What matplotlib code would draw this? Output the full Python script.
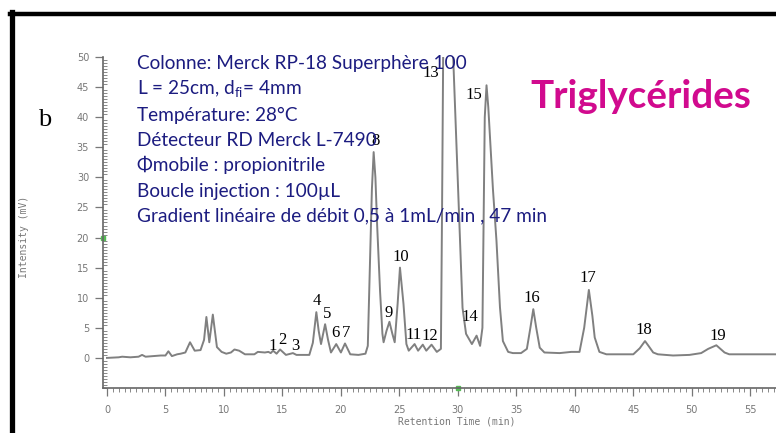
import matplotlib
matplotlib.use("Agg")
import matplotlib.pyplot as plt
from matplotlib.lines import Line2D
from matplotlib.ticker import MultipleLocator

# chromatogram trace: retention time (min) / intensity (mV)
time_min = [0.0, 1.0, 1.3, 2.0, 2.7, 3.0, 3.3, 4.0, 4.6, 5.0, 5.25, 5.55, 6.0, 6.3,
            6.7, 7.1, 7.5, 8.0, 8.3, 8.5, 8.75, 9.05, 9.4, 9.8, 10.2, 10.6, 10.9,
            11.3, 11.8, 12.6, 12.9, 13.5, 13.8, 14.0, 14.2, 14.5, 14.8, 15.3, 15.9,
            16.2, 17.3, 17.6, 17.9, 18.1, 18.3, 18.65, 18.9, 19.15, 19.6, 20.0,
            20.35, 20.8, 21.5, 22.1, 22.3, 22.5, 22.65, 22.8, 22.95, 23.1, 23.35,
            23.55, 23.65, 23.9, 24.15, 24.4, 24.6, 24.85, 25.05, 25.35, 25.6, 25.8,
            26.3, 26.6, 27.0, 27.3, 27.75, 28.2, 28.55, 28.65, 28.75, 29.0, 29.3,
            29.6, 30.0, 30.4, 30.7, 31.2, 31.6, 31.9, 32.1, 32.3, 32.45, 32.6,
            33.0, 33.3, 33.6, 33.85, 34.3, 34.7, 35.4, 35.9, 36.2, 36.45, 36.7,
            37.0, 37.4, 38.7, 39.7, 40.4, 40.8, 41.2, 41.5, 41.7, 42.1, 42.7,
            45.0, 45.55, 46.0, 46.3, 46.7, 47.1, 48.4, 49.8, 50.8, 51.4, 52.1,
            52.8, 53.2, 57.2]
intensity_mv = [0.0, 0.1, 0.2, 0.1, 0.2, 0.5, 0.2, 0.3, 0.4, 0.4, 1.1, 0.3, 0.6, 0.7,
                0.9, 2.6, 1.2, 1.3, 3.0, 6.8, 2.6, 7.2, 1.8, 1.0, 0.7, 0.9, 1.4,
                1.2, 0.6, 0.6, 1.0, 0.9, 1.0, 0.8, 1.2, 0.7, 1.4, 0.5, 0.8,
                0.5, 0.5, 2.5, 7.6, 4.5, 2.3, 5.6, 3.0, 0.9, 2.3, 0.9,
                2.4, 0.6, 0.5, 0.7, 2.0, 17.0, 28.0, 34.2, 30.0, 22.0, 11.0,
                4.0, 2.6, 4.5, 6.0, 4.0, 2.6, 9.0, 15.0, 9.0, 2.3, 1.2,
                2.3, 1.2, 2.2, 1.2, 2.2, 1.0, 1.5, 25.0, 52.0, 62.0, 60.0,
                50.0, 29.0, 8.3, 4.0, 2.3, 3.7, 2.0, 5.0, 40.0, 45.3, 41.7,
                28.0, 19.5, 8.4, 2.8, 1.0, 0.8, 0.8, 1.5, 5.0, 8.1, 5.0,
                1.7, 0.9, 0.8, 1.0, 1.0, 5.0, 11.3, 7.0, 3.4, 1.0, 0.6,
                0.6, 1.6, 2.8, 2.0, 0.9, 0.6, 0.4, 0.5, 0.8, 1.5, 2.1,
                0.9, 0.6, 0.6]

# peak numbers and where they are written
peak_labels = ["1", "2", "3", "4", "5", "6", "7", "8", "9", "10",
               "11", "12", "13", "14", "15", "16", "17", "18", "19"]
peak_label_t = [14.2, 15.0, 16.1, 17.9, 18.85, 19.5, 20.45, 23.0, 24.1, 25.1,
                26.25, 27.6, 27.7, 31.0, 31.4, 36.3, 41.1, 45.9, 52.2]
peak_label_i = [2.0, 3.0, 2.0, 9.5, 7.3, 4.2, 4.2, 36.0, 7.5, 16.7,
                3.8, 3.7, 47.3, 6.8, 43.7, 10.0, 13.3, 4.7, 3.7]

info_lines = [
    "Colonne: Merck RP-18 Superphère 100",
    r"L = 25cm, d$_{\mathregular{fi}}$= 4mm",
    "Température: 28°C",
    "Détecteur RD Merck L-7490",
    "Φmobile : propionitrile",
    "Boucle injection : 100µL",
    "Gradient linéaire de débit 0,5 à 1mL/min , 47 min",
]
title_text = "Triglycérides"

W, H = 776, 433
plt.rcParams["mathtext.fontset"] = "custom"
plt.rcParams["mathtext.rm"] = "Lato"

fig = plt.figure(figsize=(W / 100, H / 100), dpi=100)
fig.patch.set_facecolor("white")
ax = fig.add_axes([103 / W, 1 - 388 / H, 673 / W, 331 / H])

ax.plot(time_min, intensity_mv, color="#808080", lw=1.4)
ax.set_xlim(-0.34, 57.2)
ax.set_ylim(-5, 50)

for s in ["top", "right"]:
    ax.spines[s].set_visible(False)
for s in ["left", "bottom"]:
    ax.spines[s].set_color("#666666")
    ax.spines[s].set_linewidth(1.2)

ax.set_xticks(range(0, 56, 5))
ax.set_yticks(range(0, 51, 5))
ax.xaxis.set_minor_locator(MultipleLocator(0.5))
ax.yaxis.set_minor_locator(MultipleLocator(0.5))
ax.tick_params(axis="both", which="major", colors="#777777", labelsize=7,
               length=6, width=0.9, direction="out", pad=4)
ax.tick_params(axis="x", which="minor", colors="#888888", length=3,
               width=0.7, direction="out")
ax.tick_params(axis="y", which="minor", colors="#888888", length=3,
               width=0.7, direction="in")
ax.tick_params(axis="x", which="major", pad=6)

ax.set_xlabel("Retention Time (min)", family="DejaVu Sans Mono", fontsize=7,
              color="#777777")
ax.xaxis.set_label_coords((457 - 103) / 673, -(417 - 388) / 331)
ax.set_ylabel("Intensity (mV)", family="DejaVu Sans Mono", fontsize=7,
              color="#777777")
ax.yaxis.set_label_coords(-(103 - 29) / 673, (388 - 237) / 331)

# green cursor marks on both axes
ax.plot([-0.34], [20], marker="s", ms=3, color="#55bb55", clip_on=False)
ax.plot([30], [-5], marker="s", ms=3, color="#55bb55", clip_on=False)

for lab, t, i in zip(peak_labels, peak_label_t, peak_label_i):
    ax.text(t, i, lab, ha="center", va="center", fontsize=12,
            family="Liberation Serif", color="black")

line_y = [63, 89, 115, 140, 165, 191, 216]
for txt, y in zip(info_lines, line_y):
    fig.text(137 / W, 1 - y / H, txt, ha="left", va="center", fontsize=13.7,
             family=["Lato", "DejaVu Sans"], color="#1c1c80")

fig.text(530 / W, 1 - 97 / H, title_text, ha="left", va="center", fontsize=27.8,
         fontweight="bold", family=["Lato", "DejaVu Sans"], color="#d10a8e")
fig.text(45 / W, 1 - 120 / H, "b", ha="center", va="center", fontsize=19,
         family="Liberation Serif", color="black")

# black frame on the left and top
fig.add_artist(Line2D([12.5 / W, 12.5 / W], [0, 1 - 12 / H], color="black", lw=3.8))
fig.add_artist(Line2D([10 / W, 1], [1 - 14 / H, 1 - 14 / H], color="black", lw=3.2))

fig.savefig("out.png", dpi=100)
